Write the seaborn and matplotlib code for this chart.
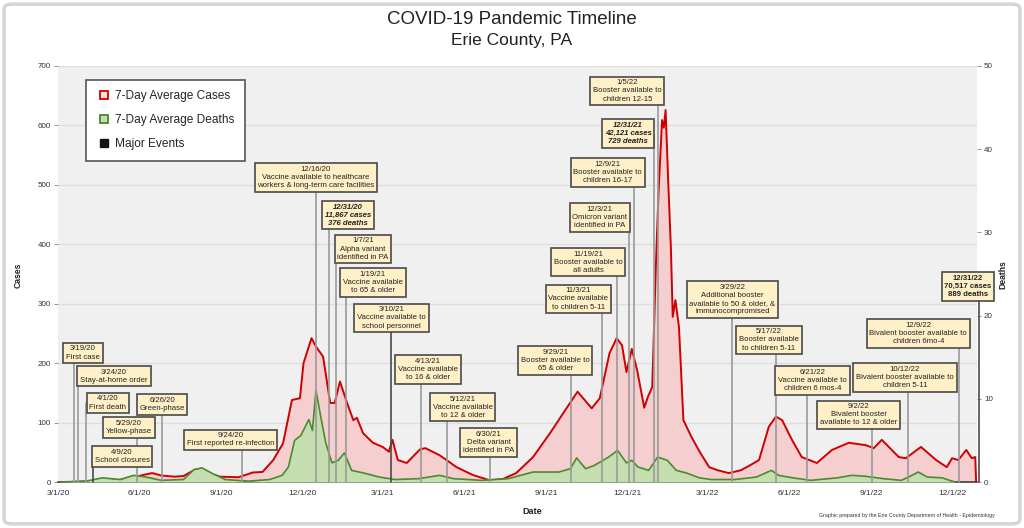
# COVID-19 Pandemic Timeline - Erie County, PA
# 7-day average cases / deaths with major events

import pandas as pd
import matplotlib.pyplot as plt
import matplotlib.dates as mdates
from matplotlib.lines import Line2D
from matplotlib.patches import FancyBboxPatch
from matplotlib.ticker import FuncFormatter, MultipleLocator
import seaborn as sns

sns.set_theme(style="white")
plt.rcParams["font.family"] = ["Liberation Sans", "DejaVu Sans"]

# ------------------------------------------
# Data
# ------------------------------------------
case_dates = [
    "2020-03-01", "2020-03-15", "2020-04-01", "2020-04-15", "2020-05-01", "2020-05-15",
    "2020-05-25", "2020-06-05", "2020-06-15", "2020-06-25", "2020-07-10", "2020-07-20",
    "2020-08-01", "2020-08-08", "2020-08-18", "2020-08-30", "2020-09-20", "2020-10-06",
    "2020-10-17", "2020-10-29", "2020-11-09", "2020-11-19", "2020-11-28", "2020-12-02",
    "2020-12-11", "2020-12-16", "2020-12-24", "2021-01-01", "2021-01-06", "2021-01-12",
    "2021-01-20", "2021-01-27", "2021-01-31", "2021-02-07", "2021-02-18", "2021-03-01",
    "2021-03-08", "2021-03-12", "2021-03-18", "2021-03-28", "2021-04-12", "2021-04-18",
    "2021-05-04", "2021-05-23", "2021-06-10", "2021-06-29", "2021-07-14", "2021-07-29",
    "2021-08-17", "2021-09-05", "2021-09-20", "2021-10-06", "2021-10-22", "2021-10-31",
    "2021-11-11", "2021-11-19", "2021-11-25", "2021-11-30", "2021-12-06", "2021-12-12",
    "2021-12-20", "2021-12-24", "2021-12-29", "2022-01-02", "2022-01-05", "2022-01-09",
    "2022-01-11", "2022-01-13", "2022-01-16", "2022-01-19", "2022-01-21", "2022-01-24",
    "2022-01-28", "2022-02-02", "2022-02-11", "2022-02-21", "2022-03-03", "2022-03-12",
    "2022-03-25", "2022-04-08", "2022-04-20", "2022-04-28", "2022-05-09", "2022-05-17",
    "2022-05-24", "2022-06-04", "2022-06-15", "2022-07-02", "2022-07-19", "2022-08-07",
    "2022-08-26", "2022-09-04", "2022-09-13", "2022-10-02", "2022-10-10", "2022-10-27",
    "2022-11-13", "2022-11-25", "2022-12-01", "2022-12-08", "2022-12-17", "2022-12-23",
    "2022-12-27", "2022-12-28",
]
case_values = [
    0, 0, 1, 2, 3, 4,
    8, 12, 15, 11, 9, 10,
    20, 22, 15, 9, 8, 16,
    17, 37, 65, 138, 141, 200,
    242, 228, 211, 133, 133, 169,
    133, 104, 108, 82, 66, 59,
    51, 71, 37, 32, 55, 57,
    45, 25, 12, 3, 5, 15,
    42, 82, 116, 152, 124, 141,
    217, 242, 230, 185, 224, 188,
    125, 143, 160, 362, 486, 609,
    596, 626, 503, 391, 278, 306,
    261, 104, 76, 49, 25, 20,
    15, 20, 30, 37, 93, 110,
    104, 71, 42, 32, 54, 66,
    62, 57, 71, 42, 40, 59,
    37, 25, 40, 37, 54, 40,
    42, 0,
]

death_dates = [
    "2020-03-01", "2020-04-01", "2020-04-20", "2020-05-10", "2020-05-25", "2020-06-08",
    "2020-06-25", "2020-07-20", "2020-08-01", "2020-08-10", "2020-08-22", "2020-09-05",
    "2020-10-01", "2020-10-25", "2020-11-08", "2020-11-15", "2020-11-22", "2020-11-29",
    "2020-12-08", "2020-12-12", "2020-12-16", "2020-12-22", "2020-12-27", "2021-01-03",
    "2021-01-10", "2021-01-17", "2021-01-25", "2021-02-07", "2021-02-25", "2021-03-15",
    "2021-04-10", "2021-05-04", "2021-05-20", "2021-06-20", "2021-07-20", "2021-08-17",
    "2021-09-15", "2021-09-28", "2021-10-05", "2021-10-15", "2021-10-25", "2021-11-10",
    "2021-11-20", "2021-11-30", "2021-12-06", "2021-12-13", "2021-12-25", "2022-01-04",
    "2022-01-15", "2022-01-25", "2022-02-05", "2022-02-20", "2022-03-05", "2022-04-01",
    "2022-04-25", "2022-05-12", "2022-05-20", "2022-06-05", "2022-06-25", "2022-07-25",
    "2022-08-10", "2022-08-25", "2022-09-15", "2022-10-05", "2022-10-15", "2022-10-24",
    "2022-11-03", "2022-11-20", "2022-12-01", "2022-12-05",
]
death_values = [
    0, 0.1, 0.5, 0.3, 0.8, 0.6,
    0.2, 0.3, 1.5, 1.7, 1.0, 0.3,
    0.1, 0.3, 0.8, 1.8, 5.0, 5.6,
    7.5, 6.2, 11.0, 7.5, 4.7, 2.3,
    2.6, 3.5, 1.4, 1.1, 0.6, 0.3,
    0.4, 0.8, 0.4, 0.2, 0.4, 1.2,
    1.2, 1.6, 2.9, 1.6, 2.0, 3.0,
    3.8, 2.3, 2.6, 1.8, 1.4, 3.0,
    2.6, 1.4, 1.1, 0.5, 0.3, 0.3,
    0.6, 1.4, 0.8, 0.5, 0.2, 0.5,
    0.8, 0.7, 0.4, 0.2, 0.7, 1.2,
    0.6, 0.5, 0.1, 0,
]

event_dates = [
    "2020-03-19", "2020-03-24", "2020-04-01", "2020-04-09", "2020-05-29", "2020-06-26",
    "2020-09-24", "2020-12-16", "2020-12-31", "2021-01-07", "2021-01-19", "2021-03-10",
    "2021-04-13", "2021-05-12", "2021-06-30", "2021-09-29", "2021-11-03", "2021-11-19",
    "2021-12-03", "2021-12-09", "2021-12-31", "2022-01-05", "2022-03-29", "2022-05-17",
    "2022-06-21", "2022-09-02", "2022-10-12", "2022-12-09", "2022-12-31",
]
event_labels = [
    "3/19/20\nFirst case",
    "3/24/20\nStay-at-home order",
    "4/1/20\nFirst death",
    "4/9/20\nSchool closures",
    "5/29/20\nYellow-phase",
    "6/26/20\nGreen-phase",
    "9/24/20\nFirst reported re-infection",
    "12/16/20\nVaccine available to healthcare\nworkers & long-term care facilities",
    "12/31/20\n11,867 cases\n376 deaths",
    "1/7/21\nAlpha variant\nidentified in PA",
    "1/19/21\nVaccine available\nto 65 & older",
    "3/10/21\nVaccine available to\nschool personnel",
    "4/13/21\nVaccine available\nto 16 & older",
    "5/12/21\nVaccine available\nto 12 & older",
    "6/30/21\nDelta variant\nidentified in PA",
    "9/29/21\nBooster available to\n65 & older",
    "11/3/21\nVaccine available\nto children 5-11",
    "11/19/21\nBooster available to\nall adults",
    "12/3/21\nOmicron variant\nidentified in PA",
    "12/9/21\nBooster available to\nchildren 16-17",
    "12/31/21\n42,121 cases\n729 deaths",
    "1/5/22\nBooster available to\nchildren 12-15",
    "3/29/22\nAdditional booster\navailable to 50 & older, &\nimmunocompromised",
    "5/17/22\nBooster available\nto children 5-11",
    "6/21/22\nVaccine available to\nchildren 6 mos-4",
    "9/2/22\nBivalent booster\navailable to 12 & older",
    "10/12/22\nBivalent booster available to\nchildren 5-11",
    "12/9/22\nBivalent booster available to\nchildren 6mo-4",
    "12/31/22\n70,517 cases\n889 deaths",
]

# where each label box sits (date, height on the cases scale)
box_dates = [
    "2020-03-29", "2020-05-03", "2020-04-26", "2020-05-12", "2020-05-20", "2020-06-26",
    "2020-09-11", "2020-12-16", "2021-01-21", "2021-02-07", "2021-02-18", "2021-03-11",
    "2021-04-21", "2021-05-30", "2021-06-28", "2021-09-11", "2021-10-07", "2021-10-18",
    "2021-10-31", "2021-11-09", "2021-12-02", "2021-12-01", "2022-03-29", "2022-05-09",
    "2022-06-27", "2022-08-18", "2022-10-09", "2022-10-24", "2022-12-19",
]
box_levels = [
    217, 178, 133, 43, 92, 130,
    71, 512, 449, 392, 336, 276,
    189, 126, 66, 205, 308, 370,
    445, 521, 586, 658, 307, 239,
    171, 113, 176, 250, 329,
]
# totals boxes get a different font style
box_styles = {8: ("italic", "bold"), 20: ("italic", "bold"), 28: ("normal", "bold")}
dark_lines = {3, 11, 28}

cases = pd.DataFrame({"Date": pd.to_datetime(case_dates), "Cases": case_values})
deaths = pd.DataFrame({"Date": pd.to_datetime(death_dates), "Deaths": death_values})

# ------------------------------------------
# Figure
# ------------------------------------------
RED = "#d00000"
PINK = "#f5cfd0"
GREEN = "#4b8a2e"
LIGHT_GREEN = "#c4deb0"

fig = plt.figure(figsize=(10.24, 5.28), dpi=100)
fig.patches.append(FancyBboxPatch((0.004, 0.008), 0.992, 0.984,
                                  boxstyle="round,pad=0,rounding_size=0.008",
                                  transform=fig.transFigure, fill=False,
                                  edgecolor="#d6d6d6", linewidth=2.5))

ax = fig.add_axes([0.0566, 0.0871, 0.8975, 0.7879])
ax.set_facecolor("#f0f0f0")
ax2 = ax.twinx()

# cases on left axis
ax.fill_between(cases["Date"], cases["Cases"], color=PINK, linewidth=0, zorder=1)
sns.lineplot(data=cases, x="Date", y="Cases", ax=ax, color=RED, linewidth=1.4, zorder=3)

# deaths on right axis
ax2.fill_between(deaths["Date"], deaths["Deaths"], color=LIGHT_GREEN, linewidth=0, zorder=1)
sns.lineplot(data=deaths, x="Date", y="Deaths", ax=ax2, color=GREEN, linewidth=1.2, zorder=2)

ax.set_xlim(pd.Timestamp("2020-03-01"), pd.Timestamp("2022-12-29"))
ax.set_ylim(0, 700)
ax2.set_ylim(0, 50)
ax.yaxis.set_major_locator(MultipleLocator(100))
ax2.yaxis.set_major_locator(MultipleLocator(10))
ax.grid(axis="y", color="#dedede", linewidth=1)
ax.set_axisbelow(True)

ax.xaxis.set_major_locator(mdates.MonthLocator(bymonth=[3, 6, 9, 12]))
ax.xaxis.set_minor_locator(mdates.MonthLocator())
ax.xaxis.set_major_formatter(
    FuncFormatter(lambda v, p: "{}/{}/{}".format(mdates.num2date(v).month,
                                                 mdates.num2date(v).day,
                                                 mdates.num2date(v).year % 100)))

for a in (ax, ax2):
    for s in ("top", "left", "right"):
        a.spines[s].set_visible(False)
    a.set_xlabel("")
    a.set_ylabel("")
ax2.spines["bottom"].set_visible(False)
ax.spines["bottom"].set_color("#404040")
ax.spines["bottom"].set_linewidth(1.2)

ax.tick_params(axis="x", which="major", length=4, width=1, color="#404040",
               labelsize=6, pad=2, labelcolor="#333333")
ax.tick_params(axis="x", which="minor", length=3, width=0.8, color="#404040")
ax.tick_params(axis="y", length=3, width=0.6, color="#888888", labelsize=5.8,
               pad=2, labelcolor="#333333", left=True)
ax2.tick_params(axis="y", length=3, width=0.6, color="#888888", labelsize=5.8,
                pad=2, labelcolor="#333333", right=True)

# ------------------------------------------
# Major events
# ------------------------------------------
for i, (ed, lab, bd, lv) in enumerate(zip(event_dates, event_labels, box_dates, box_levels)):
    x_ev = mdates.date2num(pd.Timestamp(ed))
    x_box = mdates.date2num(pd.Timestamp(bd))
    lc = "#4a4a4a" if i in dark_lines else "#9a9a9a"
    ax2.plot([x_ev, x_ev], [0, lv], transform=ax.transData, color=lc,
             linewidth=1.2, zorder=5, clip_on=False)
    style, weight = box_styles.get(i, ("normal", "normal"))
    ax2.text(x_box, lv, lab, transform=ax.transData, ha="center", va="center",
             fontsize=5.6, linespacing=1.22, color="#222222", fontstyle=style,
             fontweight=weight, zorder=6, clip_on=False,
             bbox=dict(boxstyle="square,pad=0.35", facecolor="#fff0c8",
                       edgecolor="#4a4a4a", linewidth=1.2))

# ------------------------------------------
# Legend
# ------------------------------------------
handles = [
    Line2D([], [], linestyle="none", marker="s", markersize=6,
           markerfacecolor="#fbe0e0", markeredgecolor=RED, markeredgewidth=1.3),
    Line2D([], [], linestyle="none", marker="s", markersize=6,
           markerfacecolor=LIGHT_GREEN, markeredgecolor=GREEN, markeredgewidth=1.3),
    Line2D([], [], linestyle="none", marker="s", markersize=6,
           markerfacecolor="#111111", markeredgecolor="#111111"),
]
leg = ax2.legend(handles, ["7-Day Average Cases", "7-Day Average Deaths", "Major Events"],
                 loc="upper left", bbox_to_anchor=(0.031, 0.967), fontsize=8.6,
                 frameon=True, fancybox=False, edgecolor="#555555", framealpha=1,
                 borderpad=0.9, labelspacing=1.0, handletextpad=0.3,
                 handlelength=1.2, borderaxespad=0)
leg.get_frame().set_linewidth(1.2)
leg.set_zorder(10)

# ------------------------------------------
# Titles and labels
# ------------------------------------------
fig.text(0.5, 1 - 20 / 528, "COVID-19 Pandemic Timeline", ha="center", va="center",
         fontsize=13.5, color="#222222")
fig.text(0.5, 1 - 41 / 528, "Erie County, PA", ha="center", va="center",
         fontsize=12.5, color="#222222")
fig.text(18 / 1024, 1 - 275 / 528, "Cases", rotation=90, ha="center", va="center",
         fontsize=6.2, fontweight="bold", color="#222222")
fig.text(1003 / 1024, 1 - 275 / 528, "Deaths", rotation=90, ha="center", va="center",
         fontsize=6.2, fontweight="bold", color="#222222")
fig.text(532 / 1024, 1 - 511 / 528, "Date", ha="center", va="center",
         fontsize=6.5, fontweight="bold", color="#222222")
fig.text(995 / 1024, 1 - 516 / 528,
         "Graphic prepared by the Erie County Department of Health - Epidemiology",
         ha="right", va="center", fontsize=3.8, color="#333333")

plt.savefig("out.png", dpi=100)
